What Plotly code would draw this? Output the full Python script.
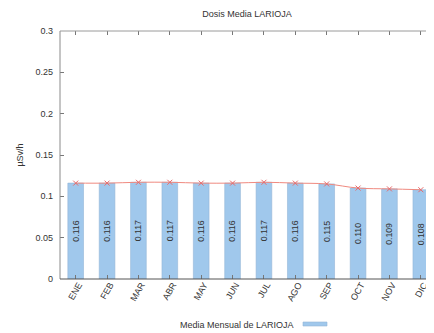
import plotly.graph_objects as go

months = ["ENE", "FEB", "MAR", "ABR", "MAY", "JUN", "JUL", "AGO", "SEP", "OCT", "NOV", "DIC"]
values = [0.116, 0.116, 0.117, 0.117, 0.116, 0.116, 0.117, 0.116, 0.115, 0.110, 0.109, 0.108]
yticks = [0, 0.05, 0.1, 0.15, 0.2, 0.25, 0.3]
ytick_text = ["0", "0.05", "0.1", "0.15", "0.2", "0.25", "0.3"]
title = "Dosis Media LARIOJA"
legend_label = "Media Mensual de LARIOJA"
y_title = "µSv/h"

FONT = "Liberation Sans, Arial, sans-serif"
x_idx = list(range(len(months)))

# page body has an 8px margin -> figure is offset by 8px
OFF = 8
W, H = 434 - OFF, 333 - OFF
L, T, B = 60 - OFF, 31 - OFF, 333 - 279
PW, PH = W - L, H - T - B

fig = go.Figure()
fig.add_trace(go.Bar(
    x=x_idx, y=values, width=0.5,
    marker=dict(color="#A0C8EC", line=dict(color="#93B6D6", width=0.6)),
    text=[f"{v:.3f}" for v in values], textposition="inside",
    insidetextanchor="middle", textangle=-90,
    textfont=dict(family=FONT, size=9, color="#333333"),
    showlegend=False, hoverinfo="skip",
))
fig.add_trace(go.Scatter(
    x=x_idx, y=values, mode="lines+markers",
    line=dict(color="#F08A80", width=1, shape="spline"),
    marker=dict(symbol="x-thin", size=5, line=dict(color="#E86A6A", width=1)),
    showlegend=False, hoverinfo="skip",
))

fig.update_layout(
    width=W, height=H,
    margin=dict(l=L, r=0, t=T, b=B, pad=0),
    paper_bgcolor="white", plot_bgcolor="white",
    font=dict(family=FONT, size=9, color="#333333"),
    title=dict(text=title, x=(247 - OFF) / W, xanchor="center", y=1 - (14 - OFF) / H, yanchor="middle",
               font=dict(family=FONT, size=9, color="#333333")),
    xaxis=dict(range=[-0.5, 11.42], tickmode="array", tickvals=x_idx, ticktext=months,
               tickangle=-60, ticks="inside", ticklen=4, tickcolor="#777777", mirror="ticks",
               showline=False, showgrid=False, zeroline=False, automargin=False,
               ticklabelstandoff=-2, ticklabelshift=3,
               tickfont=dict(family=FONT, size=9, color="#333333")),
    yaxis=dict(range=[0, 0.3], tickmode="array", tickvals=yticks, ticktext=ytick_text,
               ticks="inside", ticklen=4, tickcolor="#777777", mirror="ticks",
               showline=False, showgrid=False, zeroline=False, ticklabelstandoff=6,
               automargin=False,
               title=dict(text=y_title, standoff=10, font=dict(family=FONT, size=9, color="#333333")),
               tickfont=dict(family=FONT, size=9, color="#333333")),
    bargap=0.5,
)
# axis border lines
fig.add_shape(type="line", xref="paper", yref="paper", x0=0, x1=0, y0=0, y1=1,
              line=dict(color="#8A8A8A", width=1))
fig.add_shape(type="line", xref="paper", yref="paper", x0=0, x1=1, y0=1, y1=1,
              line=dict(color="#9A9A9A", width=1))
fig.add_shape(type="line", xref="paper", yref="paper", x0=0, x1=1, y0=0, y1=0,
              line=dict(color="#555555", width=1))

# legend (text then swatch)
fig.add_annotation(text=legend_label, xref="paper", yref="paper",
                   x=(296 - 60) / PW, y=-(325 - 279) / PH, xanchor="right", yanchor="middle",
                   showarrow=False, font=dict(family=FONT, size=9, color="#333333"))
fig.add_shape(type="rect", xref="paper", yref="paper",
              x0=(303 - 60) / PW, x1=(327 - 60) / PW,
              y0=-(326 - 279) / PH, y1=-(322 - 279) / PH,
              fillcolor="#A0C8EC", line=dict(color="#93B6D6", width=0.6))

fig.write_html("out.html")
